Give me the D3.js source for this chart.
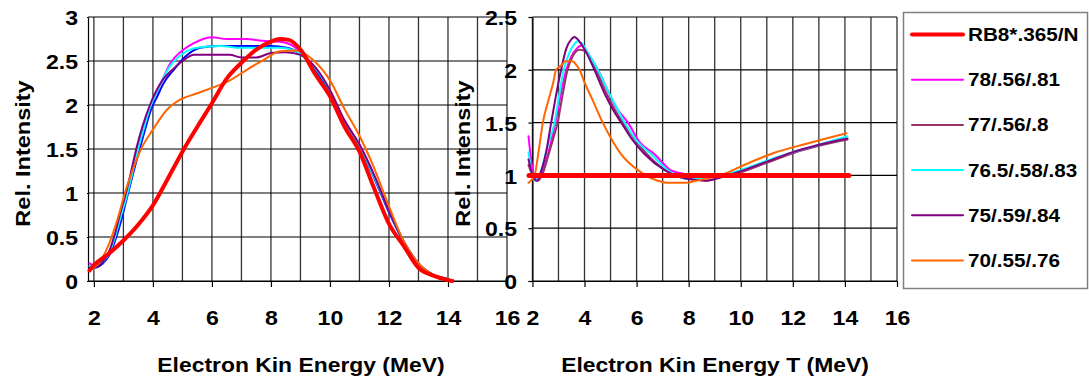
<!DOCTYPE html>
<html><head><meta charset="utf-8">
<script src="https://cdn.jsdelivr.net/npm/d3@7"></script>
<style>
body{margin:0;background:#fff}
svg{display:block}
text{font-family:"Liberation Sans",Arial,sans-serif;font-weight:bold;fill:#000}
</style>
</head><body>
<svg id="c" width="1089" height="382"></svg>
<script>
// ---------- DATA ----------
const seriesNames = ["RB8*.365/N","78/.56/.81","77/.56/.8","76.5/.58/.83","75/.59/.84","70/.55/.76"];
const legendColors = ["#ff0000","#ff00ff","#993366","#00ffff","#800080","#ff6600"];
const leftColors   = ["#ff0000","#ff00ff","#0000ff","#00ffff","#800080","#ff6600"];

const xGridTicks = [2,3,4,5,6,7,8,9,10,11,12,13,14,15,16];
const xLabelTicks = [2,4,6,8,10,12,14,16];
const yTicksLeft = [0,0.5,1,1.5,2,2.5,3];
const yTicksRight = [0,0.5,1,1.5,2,2.5];

// Left chart: spectra
const leftRB8X = [1.85,2.0,2.5,3.0,3.5,4.0,4.5,5.0,5.5,6.0,6.5,7.0,7.5,8.0,8.3,8.6,9.0,9.5,10.0,10.5,11.0,11.5,12.0,12.5,13.0,13.5,14.0,14.15];
const leftRB8Y = [0.12,0.18,0.31,0.46,0.64,0.86,1.16,1.47,1.75,2.02,2.3,2.48,2.63,2.72,2.75,2.74,2.63,2.35,2.1,1.75,1.47,1.05,0.65,0.4,0.15,0.06,0.01,0];
const left78X = [1.85,2.0,2.3,2.5,2.7,2.9,3.1,3.3,3.5,3.7,3.9,4.1,4.3,4.58,5.0,5.37,5.99,6.5,7.17,7.7,8.3,8.76,9.0,9.5,10,10.5,11,11.5,12,12.5,13,13.5,14,14.15];
const left78Y = [0.2,0.18,0.22,0.32,0.5,0.75,0.97,1.25,1.52,1.75,1.98,2.12,2.27,2.47,2.62,2.7,2.77,2.75,2.75,2.73,2.72,2.67,2.6,2.42,2.15,1.82,1.55,1.2,0.8,0.45,0.2,0.07,0.02,0];
const left77X = [1.85,2.0,2.3,2.5,2.76,2.95,3.16,3.35,3.55,3.75,3.95,4.15,4.35,4.73,5.1,5.6,6.2,7.0,8.0,8.53,9.0,9.5,10,10.5,11,11.5,12,12.5,13,13.5,14,14.15];
const left77Y = [0.15,0.15,0.2,0.28,0.5,0.72,1.0,1.25,1.5,1.74,1.96,2.1,2.24,2.41,2.55,2.65,2.67,2.67,2.67,2.65,2.58,2.4,2.14,1.8,1.52,1.17,0.78,0.44,0.19,0.07,0.02,0];
const left765X = [1.85,2.0,2.3,2.5,2.7,2.9,3.1,3.3,3.5,3.7,3.9,4.1,4.3,4.6,5.0,5.5,6.27,7.0,7.5,8.3,8.8,9.0,9.5,10,10.5,11,11.5,12,12.5,13,13.5,14,14.15];
const left765Y = [0.17,0.16,0.22,0.3,0.48,0.72,0.95,1.22,1.5,1.74,1.97,2.12,2.27,2.45,2.58,2.65,2.67,2.65,2.65,2.65,2.62,2.58,2.42,2.16,1.8,1.53,1.18,0.8,0.45,0.2,0.07,0.02,0];
const left75X = [1.85,2.0,2.3,2.5,2.68,2.9,3.1,3.3,3.45,3.65,3.9,4.1,4.3,4.69,5.0,5.4,6.0,6.6,7.0,7.5,8.0,8.5,9.0,9.5,10,10.5,11,11.5,12,12.5,13,13.5,14,14.15];
const left75Y = [0.15,0.15,0.22,0.32,0.5,0.78,1.02,1.3,1.52,1.76,2.0,2.15,2.27,2.41,2.5,2.57,2.57,2.57,2.54,2.54,2.59,2.6,2.57,2.43,2.17,1.82,1.55,1.2,0.8,0.45,0.2,0.07,0.02,0];
const left70X = [1.86,2.0,2.3,2.6,2.8,3.05,3.3,3.6,4.0,4.46,4.92,5.48,6.04,6.61,7.18,7.74,8.31,8.87,9.43,10.0,10.5,11.0,11.5,12.0,12.5,13.0,13.5,14.0,14.15];
const left70Y = [0.12,0.15,0.27,0.5,0.7,1.0,1.25,1.5,1.72,1.94,2.06,2.13,2.2,2.28,2.4,2.51,2.61,2.62,2.51,2.28,1.95,1.65,1.28,0.85,0.45,0.2,0.07,0.02,0];

// Right chart: ratios
const rightRB8X = [1.87,14.15];
const rightRB8Y = [1,1];
const right78X = [1.85,1.95,2.05,2.15,2.3,2.5,2.7,2.9,3.1,3.3,3.5,3.7,3.87,4.1,4.3,4.56,4.9,5.2,5.67,6.1,6.69,7.0,7.3,7.7,8.17];
const right78Y = [1.37,1.15,1.0,0.96,0.98,1.12,1.3,1.52,1.78,2.0,2.13,2.2,2.23,2.17,2.09,1.98,1.8,1.65,1.5,1.32,1.2,1.12,1.05,1.02,1.0];
const right77X = [1.85,2.0,2.2,2.4,2.6,2.8,2.97,3.15,3.35,3.55,3.81,4.0,4.2,4.45,4.8,5.1,5.47,5.9,6.4,7.1,7.6,8.2,8.7,9.2,10,11,12,13,14.1];
const right77Y = [1.1,1.0,0.95,1.02,1.18,1.35,1.5,1.75,2.0,2.13,2.19,2.18,2.12,2.0,1.8,1.65,1.5,1.35,1.2,1.05,0.99,0.96,0.95,0.98,1.03,1.12,1.21,1.28,1.34];
const right765X = [1.85,1.95,2.1,2.2,2.4,2.6,2.85,3.0,3.2,3.4,3.6,3.74,3.9,4.2,4.51,4.9,5.2,5.54,6.0,6.56,7.2,7.85,8.5,9.0,10,11,12,13,14.1];
const right765Y = [1.22,1.05,0.95,0.97,1.1,1.3,1.5,1.72,2.0,2.15,2.24,2.27,2.25,2.13,2.0,1.8,1.66,1.5,1.33,1.2,1.05,0.97,0.97,0.99,1.05,1.14,1.22,1.29,1.37];
const right75X = [1.85,1.95,2.05,2.18,2.35,2.55,2.72,2.9,3.1,3.3,3.5,3.62,3.8,4.1,4.38,4.8,5.1,5.41,5.8,6.31,7.08,7.6,8.2,8.68,9.2,10,11,12,13,14.1];
const right75Y = [1.15,1.05,0.97,0.95,1.05,1.25,1.5,1.75,2.0,2.2,2.29,2.31,2.27,2.15,2.0,1.76,1.62,1.5,1.35,1.2,1.05,0.99,0.96,0.95,0.98,1.04,1.13,1.22,1.29,1.35];
const right70X = [1.85,2.08,2.25,2.4,2.6,2.8,2.91,3.1,3.27,3.54,3.7,3.81,4.0,4.3,4.7,5.0,5.41,6.05,6.5,6.82,7.14,7.9,8.3,9.32,9.96,11.24,12.52,14.06];
const right70Y = [0.93,1.0,1.25,1.5,1.7,1.88,2.0,2.04,2.08,2.08,2.04,2.0,1.88,1.72,1.5,1.36,1.2,1.05,0.98,0.95,0.93,0.93,0.95,1.01,1.08,1.21,1.3,1.4];

const leftXs = [leftRB8X,left78X,left77X,left765X,left75X,left70X];
const leftYs = [leftRB8Y,left78Y,left77Y,left765Y,left75Y,left70Y];
const rightXs = [rightRB8X,right78X,right77X,right765X,right75X,right70X];
const rightYs = [rightRB8Y,right78Y,right77Y,right765Y,right75Y,right70Y];

// ---------- DRAW ----------
const svg = d3.select("#c");
const TS = 1.1; // horizontal text stretch

function panel(cfg){
  const x = d3.scaleLinear().domain(cfg.xDomain).range(cfg.xRange);
  const y = d3.scaleLinear().domain(cfg.yDomain).range([281,17]);
  const axisX = cfg.axisAt === null ? cfg.xRange[0] : x(cfg.axisAt);
  const g = svg.append("g");
  // vertical grid
  g.append("g").selectAll("line").data(xGridTicks).join("line")
    .attr("x1",d=>x(d)).attr("x2",d=>x(d)).attr("y1",y(cfg.yDomain[1])).attr("y2",y(0))
    .attr("stroke","#333").attr("stroke-width",1.3);
  // horizontal grid
  g.append("g").selectAll("line").data(cfg.yTicks).join("line")
    .attr("x1",axisX).attr("x2",x(16)).attr("y1",d=>y(d)).attr("y2",d=>y(d))
    .attr("stroke","#000").attr("stroke-width",1.2);
  // axes
  const xa = g.append("g").attr("transform",`translate(0,${y(0)})`)
    .call(d3.axisBottom(x).tickValues(xLabelTicks).tickSize(6).tickSizeOuter(0).tickPadding(23));
  xa.select(".domain").attr("stroke","#000").attr("stroke-width",1.2);
  xa.selectAll(".tick line").attr("stroke","#000").attr("stroke-width",1.2);
  xa.selectAll(".tick text").attr("font-size",21).attr("font-family","Liberation Sans, Arial, sans-serif")
    .attr("font-weight","bold").attr("transform",`scale(${TS},1)`);
  const ya = g.append("g").attr("transform",`translate(${axisX},0)`)
    .call(d3.axisLeft(y).tickValues(cfg.yTicks).tickSize(cfg.yTickSize).tickSizeOuter(0).tickFormat(d=>d));
  ya.select(".domain").attr("stroke","#000").attr("stroke-width",1.2);
  ya.selectAll(".tick line").attr("stroke","#000").attr("stroke-width",1.2);
  ya.selectAll(".tick text").attr("font-size",21).attr("font-family","Liberation Sans, Arial, sans-serif")
    .attr("font-weight","bold").attr("x",0).attr("dy","0.37em")
    .attr("transform",`translate(${cfg.yLabelRight - axisX},0) scale(${TS},1)`);
  // lines
  const line = d3.line().x(d=>x(d[0])).y(d=>y(d[1])).curve(d3.curveMonotoneX);
  const order = [1,2,3,4,5,0];
  order.forEach(i=>{
    const pts = cfg.xs[i].map((v,k)=>[v,cfg.ys[i][k]]);
    g.append("path").attr("d",line(pts)).attr("fill","none")
      .attr("stroke",cfg.colors[i]).attr("stroke-width", i===0 ? cfg.redW : 2)
      .attr("stroke-linejoin","round").attr("stroke-linecap","round");
  });
  // titles
  g.append("text").attr("transform",`translate(${cfg.yTitleX},153.5) rotate(-90) scale(1.12,1)`)
    .attr("text-anchor","middle").attr("dy","0.36em").attr("font-size",21).text("Rel. Intensity");
  g.append("text").attr("transform",`translate(${cfg.xTitleX},372) scale(1.09,1)`)
    .attr("text-anchor","middle").attr("font-size",21).text(cfg.xTitle);
}

panel({xDomain:[1.8,16], xRange:[88,507], yDomain:[0,3], yTicks:yTicksLeft, axisAt:null,
  yTickSize:1, yLabelRight:78,
  xs:leftXs, ys:leftYs, colors:leftColors, redW:4, yTitleX:22, xTitleX:301,
  xTitle:"Electron Kin Energy (MeV)"});
panel({xDomain:[1.83,16], xRange:[528,897], yDomain:[0,2.5], yTicks:yTicksRight, axisAt:2,
  yTickSize:4, yLabelRight:517,
  xs:rightXs, ys:rightYs, colors:legendColors, redW:5, yTitleX:462, xTitleX:715,
  xTitle:"Electron Kin Energy T (MeV)"});

// legend
const lg = svg.append("g");
lg.append("rect").attr("x",903.5).attr("y",12.5).attr("width",184).attr("height",276)
  .attr("fill","#fff").attr("stroke","#808080").attr("stroke-width",1.5);
const legY = d3.scalePoint().domain(seriesNames).range([34.5,260.5]);
seriesNames.forEach((n,i)=>{
  const yy = legY(n);
  lg.append("line").attr("x1",912).attr("x2",963).attr("y1",yy).attr("y2",yy)
    .attr("stroke",legendColors[i]).attr("stroke-width", i===0?4:2).attr("stroke-linecap","round");
  lg.append("text").attr("transform",`translate(968,${yy}) scale(1.15,1)`).attr("dy","0.36em")
    .attr("font-size",18).text(n);
});
</script>
</body></html>
